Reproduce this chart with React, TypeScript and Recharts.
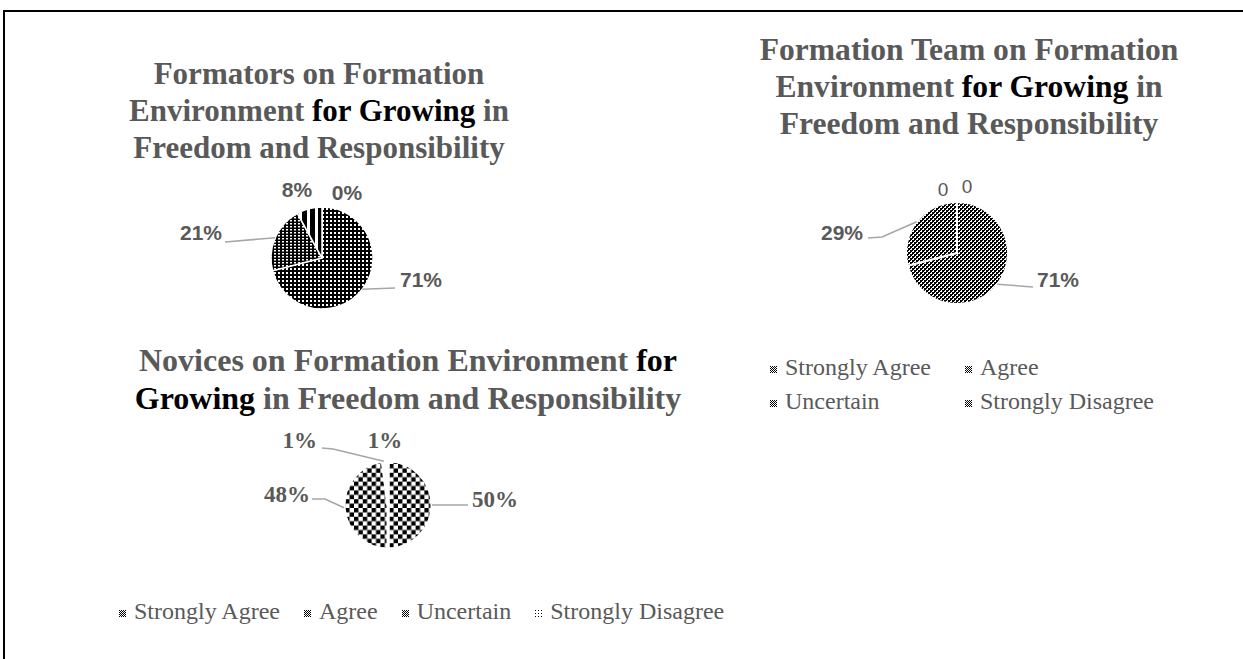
import React from "react";
import { PieChart, Pie, Cell, Legend } from "recharts";

const categories = ["Strongly Agree", "Agree", "Uncertain", "Strongly Disagree"];
const formatorsValues = [71, 21, 8, 0];
const teamValues = [71, 29, 0, 0];
const novicesValues = [50, 48, 1, 1];

const GRAY = "#595959";
const SERIF = '"Liberation Serif", Tinos, "Times New Roman", Times, serif';
const SANS = '"Liberation Sans", Arial, sans-serif';

type Spot = { tx: number; ty: number; anchor: "start" | "middle" | "end"; leader?: [number, number][] };

// label placement relative to pie centre (leader goes from slice edge through the listed points)
const formatorsSpots: Spot[] = [
  { tx: 78, ty: 29, anchor: "start", leader: [[73, 30]] },
  { tx: -100, ty: -18, anchor: "end", leader: [[-97, -16]] },
  { tx: -25, ty: -61, anchor: "middle" },
  { tx: 25, ty: -58, anchor: "middle" },
];
const teamSpots: Spot[] = [
  { tx: 80, ty: 34, anchor: "start", leader: [[76, 34]] },
  { tx: -94, ty: -13, anchor: "end", leader: [[-75, -16], [-89, -15]] },
  { tx: -14, ty: -57, anchor: "middle" },
  { tx: 10, ty: -60, anchor: "middle" },
];
const novicesSpots: Spot[] = [
  { tx: 84, ty: 2, anchor: "start", leader: [[80, 0]] },
  { tx: -78, ty: -3, anchor: "end", leader: [[-63, -6], [-76, -6]] },
  { tx: -71, ty: -57, anchor: "end", leader: [[-55, -56], [-66, -57]] },
  { tx: -3, ty: -57, anchor: "middle" },
];

const formatorsFills = ["url(#fo-sa)", "url(#fo-a)", "url(#fo-u)", "url(#fo-sd)"];
const teamFills = ["url(#tm)", "url(#tm)", "url(#tm)", "url(#tm)"];
const novicesFills = ["url(#nv-sa)", "url(#nv-a)", "url(#nv-u)", "url(#nv-sd)"];

const toRows = (vals: number[]) => categories.map((name, i) => ({ name, value: vals[i] }));

function makeLabel(spots: Spot[], fmt: (v: number) => string, font: (v: number) => React.CSSProperties) {
  return (props: any) => {
    const { cx, cy, midAngle, outerRadius, index, value } = props;
    const s = spots[index];
    if (!s) return null;
    const rad = Math.PI / 180;
    const ex = cx + outerRadius * Math.cos(-midAngle * rad);
    const ey = cy + outerRadius * Math.sin(-midAngle * rad);
    const pts = s.leader ? [[ex, ey], ...s.leader.map(([x, y]) => [cx + x, cy + y])] : null;
    return (
      <g key={`lbl-${index}`}>
        {pts && (
          <polyline
            points={pts.map((p) => p.join(",")).join(" ")}
            fill="none"
            stroke="#a6a6a6"
            strokeWidth={1.5}
          />
        )}
        <text x={cx + s.tx} y={cy + s.ty} textAnchor={s.anchor} fill={GRAY} style={font(value)}>
          {fmt(value)}
        </text>
      </g>
    );
  };
}

function Patterns() {
  return (
    <svg width={0} height={0} style={{ position: "absolute" }}>
      <defs>
        <pattern id="fo-sa" width={4} height={4} patternUnits="userSpaceOnUse">
          <rect width={4} height={4} fill="#000" />
          <rect width={2} height={2} fill="#fff" />
        </pattern>
        <pattern id="fo-a" width={4} height={3} patternUnits="userSpaceOnUse">
          <rect width={4} height={3} fill="#000" />
          <rect width={2} height={1.5} fill="#fff" />
        </pattern>
        <pattern id="fo-u" width={8} height={8} patternUnits="userSpaceOnUse">
          <rect width={8} height={8} fill="#fff" />
          <rect width={5} height={8} fill="#000" />
        </pattern>
        <pattern id="fo-sd" width={4} height={4} patternUnits="userSpaceOnUse">
          <rect width={4} height={4} fill="#fff" />
          <rect width={1} height={1} fill="#000" />
        </pattern>
        <pattern id="tm" width={4} height={4} patternUnits="userSpaceOnUse">
          <rect width={4} height={4} fill="#fff" />
          <rect width={2} height={2} fill="#000" />
          <rect x={2} y={2} width={2} height={2} fill="#000" />
          <rect x={2} y={0} width={1} height={1} fill="#000" />
          <rect x={0} y={2} width={1} height={1} fill="#000" />
        </pattern>
        <pattern id="nv-sa" width={8.8} height={8.8} patternUnits="userSpaceOnUse">
          <rect width={8.8} height={8.8} fill="#fff" />
          <rect width={4.4} height={4.4} fill="#000" />
          <rect x={4.4} y={4.4} width={4.4} height={4.4} fill="#000" />
        </pattern>
        <pattern id="nv-a" width={8.8} height={8.8} patternUnits="userSpaceOnUse">
          <rect width={8.8} height={8.8} fill="#fff" />
          <rect width={4.4} height={4.4} fill="#000" />
          <rect x={4.4} y={4.4} width={4.4} height={4.4} fill="#000" />
        </pattern>
        <pattern id="nv-u" width={4} height={4} patternUnits="userSpaceOnUse">
          <rect width={4} height={4} fill="#fff" />
          <rect width={2} height={2} fill="#000" />
          <rect x={2} y={2} width={2} height={2} fill="#000" />
        </pattern>
        <pattern id="nv-sd" width={4} height={4} patternUnits="userSpaceOnUse">
          <rect width={4} height={4} fill="#fff" />
          <rect width={1} height={1} fill="#000" />
        </pattern>
        <pattern id="mk-check" width={2} height={2} patternUnits="userSpaceOnUse">
          <rect width={2} height={2} fill="#fff" />
          <rect width={1} height={1} fill="#000" />
          <rect x={1} y={1} width={1} height={1} fill="#000" />
        </pattern>
        <pattern id="mk-dot" width={3} height={3} patternUnits="userSpaceOnUse">
          <rect width={3} height={3} fill="#fff" />
          <rect width={1} height={1} fill="#000" />
        </pattern>
      </defs>
    </svg>
  );
}

const titleStyle: React.CSSProperties = {
  position: "absolute",
  width: 700,
  textAlign: "center",
  fontFamily: SERIF,
  fontWeight: "bold",
  fontSize: 31,
  lineHeight: "37px",
  color: GRAY,
  whiteSpace: "nowrap",
};
const B = ({ children }: { children: React.ReactNode }) => <span style={{ color: "#000" }}>{children}</span>;

const Marker = ({ fill }: { fill: string }) => (
  <svg width={7} height={7} style={{ marginRight: 8, verticalAlign: "middle" }}>
    <rect width={7} height={7} fill={fill} />
  </svg>
);

const legendText: React.CSSProperties = { fontFamily: SERIF, fontSize: 24, color: GRAY, whiteSpace: "nowrap" };

export default function App() {
  const sansBold = () => ({ fontFamily: SANS, fontWeight: "bold", fontSize: 21 } as React.CSSProperties);
  const teamFont = (v: number) =>
    ({ fontFamily: SANS, fontWeight: v === 0 ? "normal" : "bold", fontSize: v === 0 ? 19 : 21 } as React.CSSProperties);
  const serifBold = () => ({ fontFamily: SERIF, fontWeight: "bold", fontSize: 23 } as React.CSSProperties);

  return (
    <div style={{ position: "absolute", left: 0, top: 0, width: 1243, height: 659, background: "#fff", overflow: "hidden" }}>
      <Patterns />
      <div style={{ position: "absolute", left: 3, top: 10, width: 1260, height: 660, borderTop: "2px solid #000", borderLeft: "2px solid #000" }} />

      <div style={{ ...titleStyle, left: 319 - 350, top: 55 }}>
        Formators on Formation
        <br />
        Environment <B>for Growing</B> in
        <br />
        Freedom and Responsibility
      </div>
      <div style={{ ...titleStyle, left: 969 - 350, top: 31, fontSize: 31.6 }}>
        Formation Team on Formation
        <br />
        Environment <B>for Growing</B> in
        <br />
        Freedom and Responsibility
      </div>
      <div style={{ ...titleStyle, left: 408 - 350, top: 341, fontSize: 32, lineHeight: "38px" }}>
        Novices on Formation Environment <B>for</B>
        <br />
        <B>Growing</B> in Freedom and Responsibility
      </div>

      <div style={{ position: "absolute", left: 150, top: 160 }}>
        <PieChart width={340} height={180} margin={{ top: 0, right: 0, bottom: 0, left: 0 }}>
          <Pie
            data={toRows(formatorsValues)}
            dataKey="value"
            nameKey="name"
            cx={172}
            cy={98}
            outerRadius={51}
            startAngle={90}
            endAngle={-270}
            stroke="#fff"
            strokeWidth={1.5}
            labelLine={false}
            label={makeLabel(formatorsSpots, (v) => `${v}%`, sansBold)}
            isAnimationActive={false}
          >
            {formatorsFills.map((f, i) => (
              <Cell key={i} fill={f} />
            ))}
          </Pie>
        </PieChart>
      </div>

      <div style={{ position: "absolute", left: 740, top: 160 }}>
        <PieChart width={480} height={270} margin={{ top: 0, right: 0, bottom: 0, left: 0 }}>
          <Pie
            data={toRows(teamValues)}
            dataKey="value"
            nameKey="name"
            cx={217}
            cy={93}
            outerRadius={51}
            startAngle={90}
            endAngle={-270}
            stroke="#fff"
            strokeWidth={2}
            labelLine={false}
            label={makeLabel(teamSpots, (v) => (v === 0 ? "0" : `${v}%`), teamFont)}
            isAnimationActive={false}
          >
            {teamFills.map((f, i) => (
              <Cell key={i} fill={f} />
            ))}
          </Pie>
          <Legend
            wrapperStyle={{ left: 30, top: 194, width: 440 }}
            content={() => (
              <div style={{ display: "grid", gridTemplateColumns: "195px 220px", rowGap: 7 }}>
                {categories.map((c) => (
                  <div key={c} style={legendText}>
                    <Marker fill="url(#mk-check)" />
                    {c}
                  </div>
                ))}
              </div>
            )}
          />
        </PieChart>
      </div>

      <div style={{ position: "absolute", left: 90, top: 420 }}>
        <PieChart width={660} height={220} margin={{ top: 0, right: 0, bottom: 0, left: 0 }}>
          <Pie
            data={toRows(novicesValues)}
            dataKey="value"
            nameKey="name"
            cx={298}
            cy={85}
            outerRadius={44}
            startAngle={90}
            endAngle={-270}
            stroke="#fff"
            strokeWidth={3}
            labelLine={false}
            label={makeLabel(novicesSpots, (v) => `${v}%`, serifBold)}
            isAnimationActive={false}
          >
            {novicesFills.map((f, i) => (
              <Cell key={i} fill={f} />
            ))}
          </Pie>
          <Legend
            wrapperStyle={{ left: 29, top: 178, width: 640 }}
            content={() => (
              <div style={{ display: "flex", gap: 24 }}>
                {categories.map((c, i) => (
                  <div key={c} style={legendText}>
                    <Marker fill={i === 3 ? "url(#mk-dot)" : "url(#mk-check)"} />
                    {c}
                  </div>
                ))}
              </div>
            )}
          />
        </PieChart>
      </div>
    </div>
  );
}
